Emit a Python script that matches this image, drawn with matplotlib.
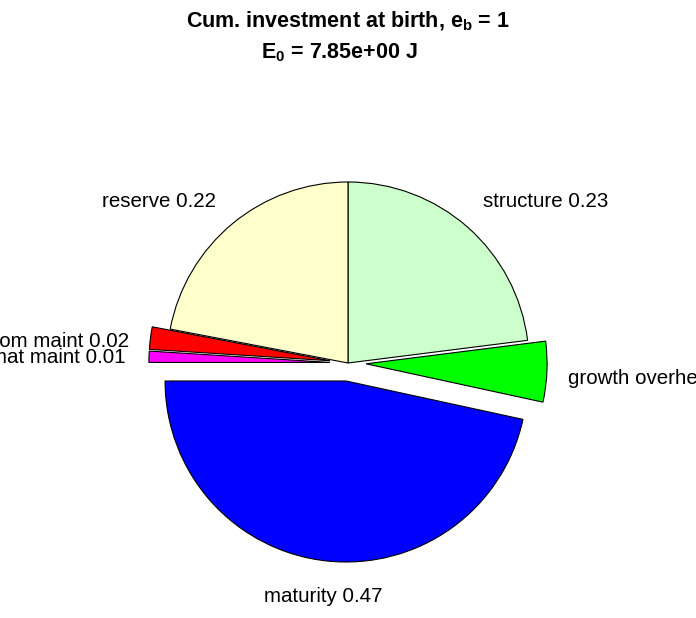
import matplotlib
matplotlib.use("Agg")
import matplotlib.pyplot as plt

plt.rcParams["font.family"] = ["Liberation Sans", "DejaVu Sans"]
plt.rcParams["mathtext.fontset"] = "custom"
plt.rcParams["mathtext.rm"] = "Liberation Sans"
plt.rcParams["mathtext.bf"] = "Liberation Sans:bold"

# data: fractions of cumulative investment at birth
names = ["structure", "growth overhead", "maturity", "mat maint", "som maint", "reserve"]
fractions = [0.23, 0.054, 0.466, 0.01, 0.02, 0.22]
colors = ["#CCFFCC", "#00FF00", "#0000FF", "#FF00FF", "#FF0000", "#FFFFCC"]
explode = [0, 0.1, 0.1, 0.1, 0.1, 0]
e_b = 1
E_0 = 7.85

labels = [f"{n} {v:.2f}" for n, v in zip(names, fractions)]

# label placement (radius units) and alignment, mimicking the Octave layout
label_pos = [(0.746, 0.89), (1.215, -0.083), (-0.138, -1.29),
             (-1.227, 0.028), (-1.21, 0.12), (-0.729, 0.895)]
label_ha = ["left", "left", "center", "right", "right", "right"]

fig = plt.figure(figsize=(6.96, 6.18), dpi=100)
ax = fig.add_axes([0, 0, 1, 1])

wedges, texts = ax.pie(fractions, labels=labels, colors=colors, explode=explode,
                       startangle=90, counterclock=False, radius=1,
                       wedgeprops=dict(edgecolor="black", linewidth=0.8),
                       textprops=dict(fontsize=14.8))
for t, p, ha in zip(texts, label_pos, label_ha):
    t.set_position(p)
    t.set_ha(ha)
    t.set_va("center")

ax.set_xlim(-348 / 181, 348 / 181)
ax.set_ylim(-255 / 181, 363 / 181)
ax.set_aspect("auto")
ax.axis("off")

fig.text(0.5, 1 - 27 / 618, rf"Cum. investment at birth, $\mathbf{{e_b}}$ = {e_b}",
         ha="center", va="baseline", fontsize=15.5, fontweight="bold")
fig.text(339 / 696, 1 - 58 / 618, rf"$\mathbf{{E_0}}$ = {E_0:.2e} J",
         ha="center", va="baseline", fontsize=15.5, fontweight="bold")

fig.savefig("out.png", dpi=100)
